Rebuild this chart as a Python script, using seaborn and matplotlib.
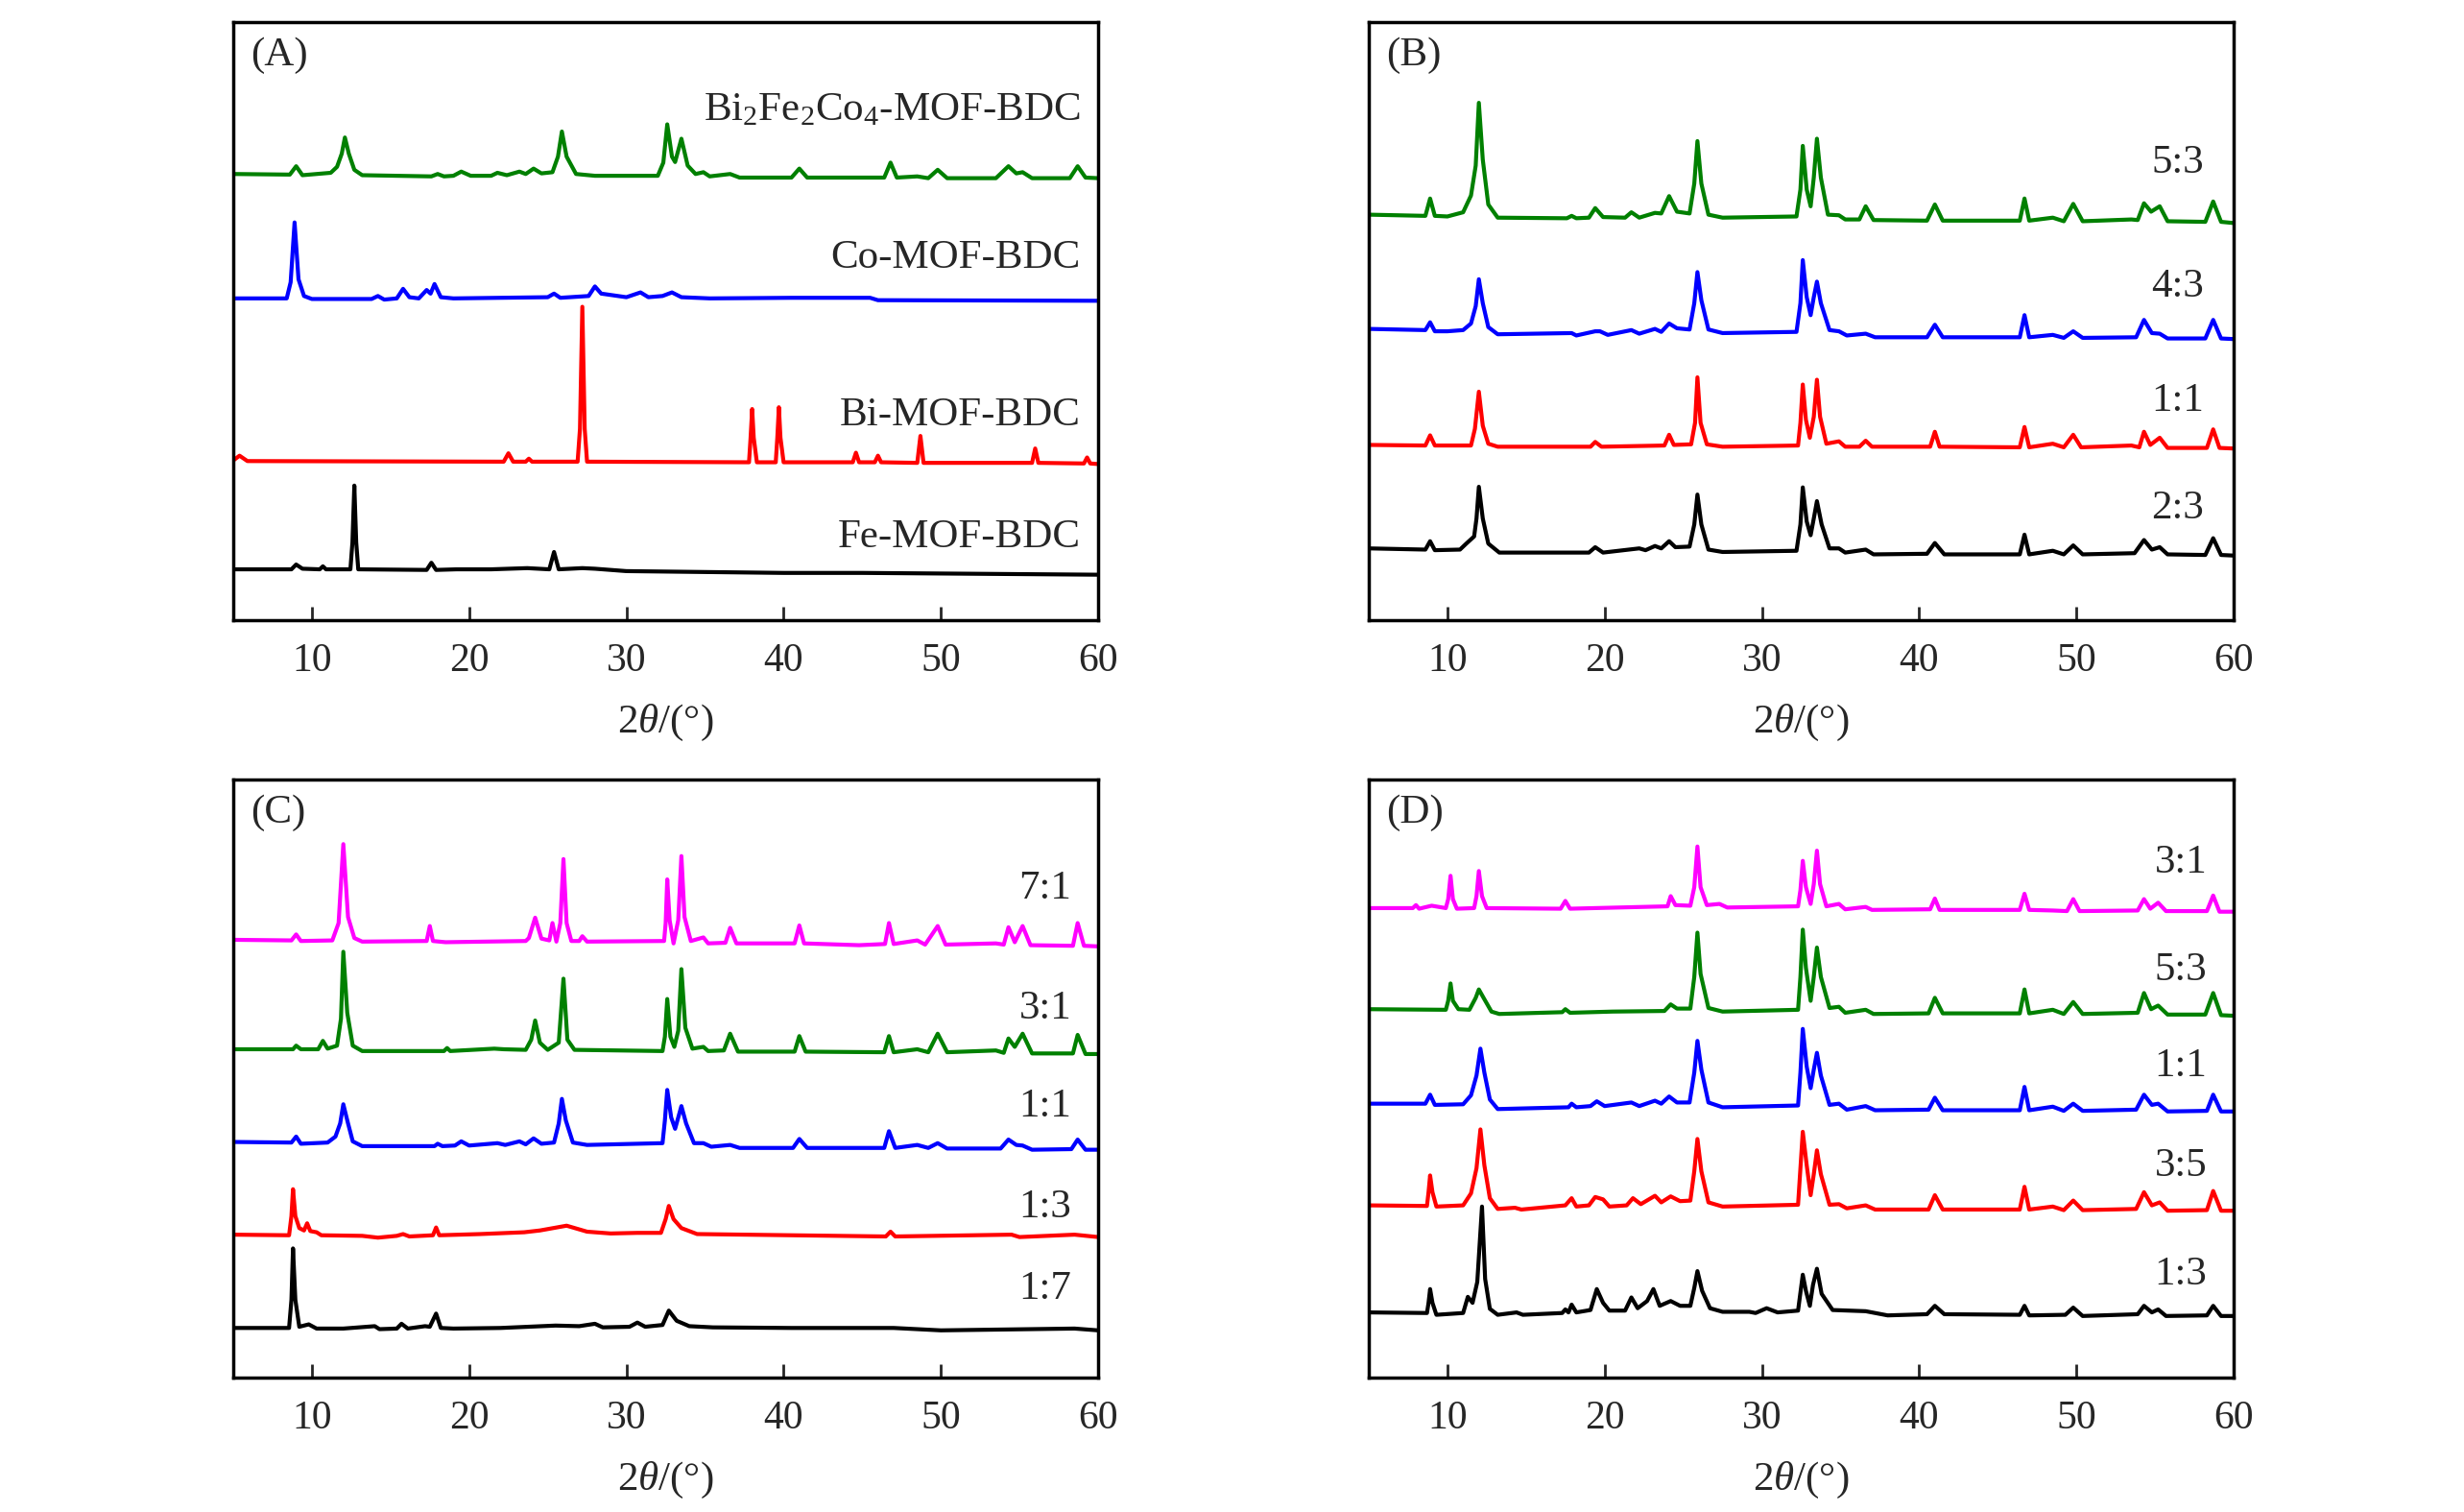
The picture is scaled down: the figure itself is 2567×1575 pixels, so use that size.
import pandas as pd
import seaborn as sns
import matplotlib
matplotlib.use("Agg")
import matplotlib.pyplot as plt

# ---- traces: (2theta, offset intensity in % of axis height)
# panel A
A_bifeco = [(5.0, 74.6), (8.6, 74.5), (9.0, 75.9), (9.4, 74.4), (11.2, 74.8), (11.6, 75.8), (11.9, 78.0),
            (12.1, 80.7), (12.35, 78.0), (12.7, 75.3), (13.2, 74.4), (17.6, 74.2), (18.0, 74.6), (18.4, 74.2),
            (19.0, 74.3), (19.5, 75.0), (20.1, 74.3), (21.4, 74.3), (21.8, 74.8), (22.4, 74.4), (23.2, 75.0),
            (23.6, 74.6), (24.1, 75.5), (24.6, 74.7), (25.3, 74.9), (25.65, 77.5), (25.9, 81.7), (26.2, 77.5),
            (26.8, 74.6), (28.0, 74.3), (32.0, 74.3), (32.35, 76.5), (32.6, 82.9), (32.9, 77.5), (33.1, 76.6),
            (33.5, 80.5), (33.9, 76.0), (34.4, 74.6), (34.9, 74.9), (35.3, 74.2), (36.6, 74.6), (37.2, 74.0),
            (40.5, 74.0), (41.0, 75.5), (41.5, 74.0), (46.4, 74.0), (46.8, 76.5), (47.2, 74.0), (48.5, 74.2),
            (49.2, 73.9), (49.8, 75.3), (50.4, 73.9), (53.5, 73.9), (54.3, 75.9), (54.8, 74.7), (55.2, 74.9),
            (55.8, 73.9), (58.2, 73.9), (58.7, 75.9), (59.2, 74.0), (60.0, 73.9)]
A_co = [(5.0, 53.8), (8.4, 53.8), (8.65, 56.5), (8.9, 66.5), (9.15, 57.0), (9.5, 54.2), (10.0, 53.7),
        (13.8, 53.7), (14.2, 54.2), (14.6, 53.6), (15.4, 53.8), (15.8, 55.4), (16.2, 54.0), (16.8, 53.8),
        (17.3, 55.2), (17.55, 54.6), (17.8, 56.2), (18.2, 54.0), (19.0, 53.8), (25.0, 54.0), (25.4, 54.6),
        (25.8, 53.9), (27.6, 54.2), (28.0, 55.8), (28.4, 54.6), (30.0, 54.0), (30.9, 54.8), (31.4, 54.0),
        (32.3, 54.2), (32.9, 54.8), (33.5, 54.0), (35.3, 53.8), (40.5, 53.9), (45.5, 53.9), (46.0, 53.5),
        (60.0, 53.4)]
A_bi = [(5.0, 26.7), (5.4, 27.5), (5.9, 26.6), (22.2, 26.5), (22.5, 27.9), (22.8, 26.5), (23.6, 26.5),
        (23.8, 27.0), (24.0, 26.5), (26.9, 26.5), (27.05, 32.0), (27.2, 52.4), (27.35, 32.0), (27.5, 26.5),
        (37.8, 26.4), (37.9, 30.5), (38.0, 35.3), (38.1, 30.5), (38.3, 26.4), (39.5, 26.4), (39.6, 30.5),
        (39.7, 35.6), (39.8, 30.5), (40.0, 26.4), (44.4, 26.4), (44.6, 28.0), (44.8, 26.4), (45.8, 26.4),
        (46.0, 27.5), (46.2, 26.4), (48.5, 26.3), (48.7, 30.8), (48.9, 26.3), (55.8, 26.3), (56.0, 28.7),
        (56.2, 26.3), (59.1, 26.2), (59.3, 27.2), (59.5, 26.2), (60.0, 26.1)]
A_fe = [(5.0, 8.5), (8.7, 8.5), (9.0, 9.3), (9.4, 8.6), (10.5, 8.5), (10.7, 9.0), (10.9, 8.5), (12.45, 8.5),
        (12.58, 13.0), (12.7, 22.5), (12.82, 13.0), (12.95, 8.5), (17.3, 8.4), (17.6, 9.6), (17.9, 8.4),
        (19.2, 8.5), (21.4, 8.5), (23.7, 8.7), (25.1, 8.5), (25.4, 11.4), (25.7, 8.5), (27.2, 8.7),
        (28.0, 8.6), (30.0, 8.2), (40.0, 7.9), (45.0, 7.9), (60.0, 7.6)]

# panel B
B_53 = [(5.0, 67.8), (8.6, 67.6), (8.9, 70.5), (9.2, 67.6), (10.0, 67.5), (11.0, 68.2), (11.5, 71.0),
        (11.8, 76.0), (12.0, 86.5), (12.25, 77.0), (12.6, 69.5), (13.2, 67.3), (17.6, 67.2), (17.9, 67.6),
        (18.2, 67.2), (19.0, 67.3), (19.4, 68.9), (19.9, 67.4), (21.3, 67.3), (21.7, 68.2), (22.2, 67.3),
        (23.2, 68.1), (23.6, 68.0), (24.1, 70.9), (24.6, 68.3), (25.4, 68.0), (25.7, 73.0), (25.9, 80.1),
        (26.15, 73.0), (26.6, 67.8), (27.5, 67.3), (32.2, 67.5), (32.45, 72.0), (32.6, 79.3), (32.85, 72.0),
        (33.1, 69.2), (33.3, 74.0), (33.5, 80.5), (33.75, 74.0), (34.2, 67.8), (34.9, 67.7), (35.3, 67.0),
        (36.2, 67.0), (36.6, 69.2), (37.1, 66.9), (40.5, 66.8), (41.0, 69.5), (41.5, 66.8), (46.4, 66.8),
        (46.7, 70.5), (47.0, 66.8), (48.5, 67.3), (49.2, 66.7), (49.8, 69.6), (50.4, 66.7), (53.5, 67.0),
        (53.9, 66.9), (54.3, 69.7), (54.75, 68.3), (55.3, 69.2), (55.8, 66.7), (58.2, 66.6), (58.7, 70.0),
        (59.2, 66.6), (60.0, 66.4)]
B_43 = [(5.0, 48.7), (8.6, 48.5), (8.9, 49.8), (9.2, 48.3), (10.0, 48.3), (11.0, 48.5), (11.5, 49.6),
        (11.8, 52.5), (12.0, 57.0), (12.25, 53.0), (12.6, 49.0), (13.2, 47.8), (17.9, 48.0), (18.2, 47.6),
        (19.4, 48.3), (19.7, 48.3), (20.2, 47.7), (21.7, 48.5), (22.2, 47.9), (23.2, 48.7), (23.6, 48.2),
        (24.1, 49.6), (24.6, 48.8), (25.4, 48.6), (25.7, 53.0), (25.9, 58.2), (26.15, 53.5), (26.6, 48.6),
        (27.5, 48.0), (32.2, 48.2), (32.45, 53.0), (32.6, 60.2), (32.85, 54.0), (33.1, 51.0), (33.3, 54.0),
        (33.5, 56.6), (33.75, 53.0), (34.3, 48.5), (34.9, 48.3), (35.4, 47.6), (36.6, 47.9), (37.2, 47.3),
        (40.5, 47.3), (41.0, 49.4), (41.5, 47.3), (46.4, 47.3), (46.7, 51.0), (47.0, 47.3), (48.5, 47.7),
        (49.2, 47.2), (49.8, 48.3), (50.4, 47.2), (53.8, 47.3), (54.3, 50.2), (54.8, 48.0), (55.3, 47.9),
        (55.8, 47.1), (58.2, 47.1), (58.7, 50.2), (59.2, 47.1), (60.0, 47.0)]
B_11 = [(5.0, 29.3), (8.6, 29.2), (8.9, 30.9), (9.2, 29.2), (11.5, 29.2), (11.75, 32.0), (12.0, 38.2),
        (12.25, 32.5), (12.6, 29.5), (13.2, 29.0), (19.1, 29.0), (19.4, 29.8), (19.8, 29.0), (23.8, 29.2),
        (24.1, 31.0), (24.4, 29.3), (25.5, 29.4), (25.75, 33.0), (25.9, 40.6), (26.1, 33.0), (26.5, 29.4),
        (27.5, 29.0), (32.3, 29.2), (32.45, 33.0), (32.6, 39.4), (32.8, 33.5), (33.05, 30.5), (33.3, 34.0),
        (33.5, 40.2), (33.7, 34.0), (34.1, 29.5), (34.9, 29.9), (35.3, 29.0), (36.2, 29.0), (36.6, 30.0),
        (37.0, 29.0), (40.7, 29.0), (41.0, 31.5), (41.3, 29.0), (46.4, 28.9), (46.7, 32.3), (47.0, 28.9),
        (48.5, 29.5), (49.2, 28.9), (49.8, 31.0), (50.3, 28.9), (53.5, 29.2), (54.0, 28.9), (54.3, 31.5),
        (54.7, 29.3), (55.3, 30.5), (55.8, 28.8), (58.3, 28.8), (58.7, 31.9), (59.1, 28.8), (60.0, 28.7)]
B_23 = [(5.0, 12.0), (8.6, 11.8), (8.9, 13.2), (9.2, 11.7), (10.8, 11.8), (11.2, 12.8), (11.7, 14.0),
        (11.85, 17.0), (12.0, 22.3), (12.25, 17.0), (12.6, 12.8), (13.3, 11.3), (19.0, 11.3), (19.4, 12.2),
        (19.9, 11.3), (22.2, 12.0), (22.6, 11.7), (23.2, 12.4), (23.6, 12.0), (24.1, 13.2), (24.5, 12.2),
        (25.4, 12.3), (25.7, 16.0), (25.9, 21.0), (26.15, 16.0), (26.6, 11.8), (27.5, 11.4), (32.2, 11.6),
        (32.45, 16.0), (32.6, 22.2), (32.85, 16.5), (33.1, 14.2), (33.3, 17.0), (33.5, 19.9), (33.8, 16.0),
        (34.3, 12.0), (34.9, 12.0), (35.3, 11.3), (36.6, 11.8), (37.1, 11.0), (40.5, 11.1), (41.0, 12.9),
        (41.6, 11.0), (46.4, 11.0), (46.7, 14.3), (47.0, 11.0), (48.5, 11.6), (49.2, 11.0), (49.8, 12.5),
        (50.4, 11.0), (53.7, 11.2), (54.3, 13.4), (54.8, 11.8), (55.3, 12.2), (55.8, 11.0), (58.2, 10.9),
        (58.7, 13.7), (59.2, 10.9), (60.0, 10.8)]

# panel C
C_71 = [(5.0, 73.2), (8.7, 73.1), (9.0, 74.1), (9.3, 73.0), (11.3, 73.1), (11.7, 76.0), (12.0, 89.2),
        (12.3, 77.0), (12.7, 73.5), (13.2, 72.9), (17.3, 73.0), (17.5, 75.5), (17.7, 73.0), (18.5, 72.8),
        (23.6, 73.0), (23.8, 73.5), (24.2, 76.9), (24.6, 73.4), (25.1, 73.1), (25.3, 76.0), (25.55, 72.9),
        (25.8, 76.0), (26.0, 86.7), (26.2, 76.0), (26.5, 73.0), (27.0, 73.0), (27.2, 73.8), (27.5, 72.9),
        (32.4, 73.0), (32.5, 76.0), (32.6, 83.3), (32.75, 76.5), (33.0, 72.6), (33.3, 76.5), (33.5, 87.2),
        (33.7, 77.0), (34.1, 73.0), (34.9, 73.6), (35.2, 72.6), (36.3, 72.7), (36.6, 75.2), (37.0, 72.6),
        (40.7, 72.6), (41.0, 75.6), (41.3, 72.6), (44.8, 72.3), (46.45, 72.5), (46.7, 76.0), (47.0, 72.5),
        (48.5, 73.1), (49.0, 72.4), (49.8, 75.5), (50.3, 72.4), (53.5, 72.6), (54.0, 72.4), (54.3, 75.3),
        (54.7, 72.8), (55.2, 75.5), (55.7, 72.3), (58.4, 72.2), (58.7, 76.0), (59.1, 72.2), (60.0, 72.1)]
C_31 = [(5.0, 54.9), (8.8, 54.9), (9.0, 55.5), (9.3, 54.9), (10.4, 54.9), (10.7, 56.3), (11.0, 55.0),
        (11.6, 55.5), (11.85, 60.0), (12.0, 71.2), (12.25, 61.0), (12.6, 55.5), (13.2, 54.6), (18.4, 54.6),
        (18.6, 55.1), (18.8, 54.6), (21.6, 55.0), (22.2, 54.9), (23.6, 54.8), (23.95, 56.5), (24.2, 59.7),
        (24.5, 56.0), (25.0, 54.8), (25.7, 56.0), (26.0, 66.7), (26.25, 56.5), (26.7, 54.8), (32.3, 54.6),
        (32.45, 57.0), (32.6, 63.3), (32.8, 57.0), (33.05, 55.3), (33.3, 58.0), (33.5, 68.3), (33.75, 58.5),
        (34.2, 55.0), (34.9, 55.3), (35.2, 54.6), (36.2, 54.7), (36.6, 57.5), (37.1, 54.5), (40.7, 54.5),
        (41.0, 57.1), (41.4, 54.5), (46.4, 54.4), (46.7, 57.1), (47.0, 54.4), (48.5, 54.9), (49.2, 54.4),
        (49.8, 57.5), (50.4, 54.4), (53.5, 54.7), (54.0, 54.3), (54.3, 56.7), (54.7, 55.3), (55.2, 57.5),
        (55.8, 54.2), (58.4, 54.2), (58.7, 57.3), (59.2, 54.1), (60.0, 54.1)]
C_11 = [(5.0, 39.4), (8.7, 39.3), (9.0, 40.3), (9.3, 39.1), (11.0, 39.3), (11.5, 40.3), (11.8, 42.5),
        (12.0, 45.7), (12.3, 42.5), (12.6, 39.5), (13.2, 38.7), (17.8, 38.7), (18.0, 39.1), (18.3, 38.7),
        (19.1, 38.8), (19.5, 39.5), (20.0, 38.8), (21.8, 39.2), (22.3, 38.9), (23.2, 39.5), (23.6, 39.0),
        (24.1, 40.0), (24.6, 39.1), (25.4, 39.3), (25.7, 42.5), (25.9, 46.6), (26.15, 43.0), (26.6, 39.3),
        (27.5, 38.9), (32.3, 39.2), (32.45, 43.0), (32.6, 48.1), (32.85, 43.5), (33.1, 41.6), (33.3, 43.5),
        (33.5, 45.4), (33.8, 42.5), (34.3, 39.2), (34.9, 39.2), (35.4, 38.6), (36.6, 38.9), (37.2, 38.4),
        (40.6, 38.4), (41.0, 39.9), (41.5, 38.4), (46.4, 38.4), (46.7, 41.2), (47.1, 38.4), (48.5, 38.9),
        (49.2, 38.4), (49.8, 39.2), (50.4, 38.3), (53.8, 38.3), (54.3, 39.8), (54.8, 38.9), (55.2, 38.8),
        (55.8, 38.1), (58.3, 38.2), (58.7, 39.8), (59.2, 38.1), (60.0, 38.1)]
C_13 = [(5.0, 23.9), (8.55, 23.8), (8.7, 27.0), (8.8, 31.5), (8.95, 27.0), (9.2, 25.0), (9.5, 24.6),
        (9.7, 25.8), (9.9, 24.5), (10.3, 24.3), (10.6, 23.8), (13.2, 23.7), (14.2, 23.4), (15.4, 23.7),
        (15.8, 24.0), (16.2, 23.6), (17.7, 23.8), (17.9, 25.1), (18.1, 23.8), (20.7, 24.0), (23.5, 24.3),
        (24.5, 24.6), (26.2, 25.4), (27.5, 24.4), (29.0, 24.1), (30.7, 24.2), (32.2, 24.2), (32.5, 26.5),
        (32.7, 28.7), (33.0, 26.5), (33.5, 25.0), (34.5, 24.0), (40.5, 23.8), (46.5, 23.6), (46.8, 24.4),
        (47.1, 23.6), (54.5, 23.9), (55.0, 23.5), (58.5, 23.9), (60.0, 23.5)]
C_17 = [(5.0, 8.3), (8.55, 8.3), (8.7, 13.0), (8.8, 21.6), (8.95, 13.0), (9.2, 8.5), (9.8, 8.9), (10.3, 8.2),
        (12.0, 8.2), (14.0, 8.6), (14.3, 8.1), (15.4, 8.2), (15.7, 9.0), (16.1, 8.2), (17.2, 8.6),
        (17.5, 8.5), (17.9, 10.7), (18.2, 8.3), (19.0, 8.2), (22.0, 8.3), (25.5, 8.7), (27.0, 8.6),
        (28.0, 9.0), (28.5, 8.4), (30.2, 8.5), (30.7, 9.2), (31.2, 8.5), (32.3, 8.8), (32.7, 11.2),
        (33.2, 9.5), (34.0, 8.6), (35.5, 8.4), (40.5, 8.3), (47.0, 8.3), (50.0, 7.9), (58.5, 8.2), (60.0, 7.9)]

# panel D
D_31 = [(5.0, 78.5), (7.8, 78.5), (8.0, 79.0), (8.2, 78.4), (9.0, 78.9), (9.9, 78.5), (10.05, 80.0),
        (10.2, 83.9), (10.35, 80.0), (10.6, 78.4), (11.7, 78.5), (11.85, 80.5), (12.0, 84.7), (12.2, 80.5),
        (12.5, 78.5), (17.2, 78.4), (17.5, 79.7), (17.8, 78.4), (24.0, 78.8), (24.2, 80.5), (24.5, 79.0),
        (25.45, 78.9), (25.7, 82.0), (25.9, 88.8), (26.1, 82.0), (26.5, 79.0), (27.3, 79.2), (27.8, 78.6),
        (32.3, 78.8), (32.45, 81.5), (32.6, 86.4), (32.8, 82.0), (33.1, 79.2), (33.3, 82.5), (33.5, 88.1),
        (33.7, 82.5), (34.1, 78.8), (34.9, 79.2), (35.3, 78.3), (36.6, 78.7), (37.0, 78.2), (40.7, 78.3),
        (41.0, 80.1), (41.3, 78.2), (46.4, 78.2), (46.7, 80.9), (47.0, 78.2), (48.5, 78.1), (49.4, 78.0),
        (49.8, 80.0), (50.2, 78.0), (53.9, 78.1), (54.3, 80.0), (54.7, 78.4), (55.2, 79.4), (55.7, 78.0),
        (58.3, 78.0), (58.7, 80.6), (59.1, 77.9), (60.0, 77.9)]
D_53 = [(5.0, 61.6), (9.9, 61.5), (10.05, 63.0), (10.2, 65.9), (10.35, 63.0), (10.7, 61.6), (11.4, 61.5),
        (11.8, 63.5), (12.0, 64.9), (12.3, 63.5), (12.8, 61.2), (13.3, 60.8), (17.3, 61.1), (17.5, 61.6),
        (17.8, 61.0), (20.5, 61.2), (23.8, 61.3), (24.2, 62.4), (24.6, 61.7), (25.45, 61.7), (25.7, 67.0),
        (25.9, 74.4), (26.1, 67.5), (26.6, 61.8), (27.5, 61.2), (32.3, 61.5), (32.45, 67.0), (32.6, 74.9),
        (32.8, 68.5), (33.1, 63.0), (33.3, 67.0), (33.5, 71.9), (33.75, 67.0), (34.3, 61.8), (34.9, 62.0),
        (35.3, 61.0), (36.6, 61.5), (37.1, 60.8), (40.6, 60.9), (41.0, 63.5), (41.5, 60.9), (46.4, 60.9),
        (46.7, 64.9), (47.0, 60.9), (48.5, 61.5), (49.2, 60.8), (49.8, 62.8), (50.4, 60.8), (53.9, 61.0),
        (54.3, 64.3), (54.75, 61.6), (55.2, 62.2), (55.8, 60.7), (58.2, 60.7), (58.7, 64.3), (59.2, 60.6),
        (60.0, 60.5)]
D_11 = [(5.0, 45.8), (8.6, 45.8), (8.9, 47.3), (9.2, 45.6), (11.0, 45.7), (11.5, 47.2), (11.85, 50.5),
        (12.1, 55.0), (12.35, 51.0), (12.7, 46.5), (13.2, 44.9), (17.7, 45.2), (17.9, 45.8), (18.2, 45.2),
        (19.1, 45.4), (19.5, 46.2), (20.0, 45.4), (21.7, 46.0), (22.2, 45.4), (23.2, 46.3), (23.6, 45.8),
        (24.1, 47.0), (24.6, 46.0), (25.4, 46.0), (25.7, 51.0), (25.9, 56.3), (26.15, 51.5), (26.6, 46.0),
        (27.5, 45.2), (32.3, 45.5), (32.45, 51.0), (32.6, 58.3), (32.85, 52.0), (33.1, 48.4), (33.3, 51.5),
        (33.5, 54.3), (33.75, 50.5), (34.3, 45.6), (34.9, 45.8), (35.4, 44.8), (36.6, 45.4), (37.2, 44.7),
        (40.6, 44.8), (41.0, 46.8), (41.5, 44.7), (46.4, 44.7), (46.7, 48.6), (47.0, 44.7), (48.5, 45.3),
        (49.2, 44.6), (49.8, 45.8), (50.4, 44.6), (53.8, 44.8), (54.3, 47.3), (54.8, 45.6), (55.2, 45.8),
        (55.8, 44.5), (58.3, 44.6), (58.7, 47.3), (59.2, 44.5), (60.0, 44.5)]
D_35 = [(5.0, 28.8), (8.7, 28.7), (8.8, 31.0), (8.9, 33.8), (9.05, 31.0), (9.3, 28.6), (11.0, 28.8),
        (11.5, 30.8), (11.85, 35.0), (12.1, 41.5), (12.35, 35.5), (12.7, 30.0), (13.2, 28.2), (14.3, 28.4),
        (14.7, 28.1), (17.5, 28.8), (17.9, 30.0), (18.2, 28.6), (19.0, 28.8), (19.4, 30.2), (19.9, 29.8),
        (20.3, 28.6), (21.4, 28.8), (21.8, 30.0), (22.3, 29.0), (23.2, 30.4), (23.6, 29.3), (24.2, 30.3),
        (24.8, 29.5), (25.45, 29.6), (25.7, 34.5), (25.9, 39.9), (26.15, 34.5), (26.6, 29.3), (27.5, 28.6),
        (32.3, 28.9), (32.45, 35.0), (32.6, 41.1), (32.85, 35.5), (33.1, 30.5), (33.3, 34.0), (33.5, 38.0),
        (33.75, 34.0), (34.3, 28.9), (34.9, 29.0), (35.4, 28.3), (36.6, 28.8), (37.2, 28.1), (40.6, 28.1),
        (41.0, 30.5), (41.5, 28.1), (46.4, 28.1), (46.7, 31.9), (47.0, 28.1), (48.5, 28.6), (49.2, 28.0),
        (49.8, 29.6), (50.4, 28.0), (53.8, 28.2), (54.3, 31.0), (54.8, 28.8), (55.3, 29.3), (55.8, 27.9),
        (58.3, 28.0), (58.7, 31.2), (59.2, 27.9), (60.0, 27.9)]
D_13 = [(5.0, 10.9), (8.7, 10.8), (8.8, 12.5), (8.9, 14.8), (9.05, 12.5), (9.3, 10.5), (11.0, 10.8),
        (11.3, 13.5), (11.6, 12.5), (11.9, 16.0), (12.2, 28.6), (12.4, 16.5), (12.7, 11.5), (13.2, 10.5),
        (14.4, 10.9), (14.8, 10.5), (17.3, 10.8), (17.5, 11.4), (17.7, 10.9), (17.9, 12.2), (18.2, 10.9),
        (19.1, 11.3), (19.5, 14.8), (19.9, 12.5), (20.3, 11.2), (21.3, 11.2), (21.7, 13.4), (22.1, 11.6),
        (22.7, 12.8), (23.1, 14.8), (23.5, 12.0), (24.2, 12.8), (24.8, 12.0), (25.45, 12.0), (25.7, 15.0),
        (25.9, 17.8), (26.2, 14.5), (26.7, 11.6), (27.5, 11.0), (29.2, 11.0), (29.6, 10.8), (30.3, 11.6),
        (31.0, 10.9), (32.3, 11.2), (32.6, 17.2), (32.8, 14.5), (33.05, 12.0), (33.25, 15.5), (33.5, 18.2),
        (33.8, 14.0), (34.5, 11.3), (36.6, 11.1), (38.0, 10.4), (40.5, 10.6), (41.0, 12.0), (41.6, 10.6),
        (46.4, 10.5), (46.7, 12.0), (47.0, 10.4), (49.3, 10.5), (49.8, 11.7), (50.4, 10.3), (53.9, 10.6),
        (54.3, 12.0), (54.8, 10.9), (55.2, 11.4), (55.7, 10.3), (58.3, 10.4), (58.7, 12.0), (59.2, 10.3),
        (60.0, 10.3)]

# labels and their vertical positions (same units)
A_labels = ["Bi$_2$Fe$_2$Co$_4$-MOF-BDC", "Co-MOF-BDC", "Bi-MOF-BDC", "Fe-MOF-BDC"]
A_label_y = [85.3, 60.6, 34.3, 13.9]
B_labels = ["5:3", "4:3", "1:1", "2:3"]
B_label_y = [76.5, 55.8, 36.7, 18.7]
C_labels = ["7:1", "3:1", "1:1", "1:3", "1:7"]
C_label_y = [81.7, 61.7, 45.3, 28.4, 14.8]
D_labels = ["3:1", "5:3", "1:1", "3:5", "1:3"]
D_label_y = [86.1, 68.1, 52.1, 35.3, 17.2]

GREEN, BLUE, RED, MAGENTA, BLACK = "#008000", "#0000ff", "#ff0000", "#ff00ff", "#000000"

panels = [
    ("(A)", [A_bifeco, A_co, A_bi, A_fe], [GREEN, BLUE, RED, BLACK], A_labels, A_label_y, 58.9),
    ("(B)", [B_53, B_43, B_11, B_23], [GREEN, BLUE, RED, BLACK], B_labels, B_label_y, 58.1),
    ("(C)", [C_71, C_31, C_11, C_13, C_17], [MAGENTA, GREEN, BLUE, RED, BLACK], C_labels, C_label_y, 58.3),
    ("(D)", [D_31, D_53, D_11, D_35, D_13], [MAGENTA, GREEN, BLUE, RED, BLACK], D_labels, D_label_y, 58.3),
]

sns.set_theme(style="white")
plt.rcParams["font.family"] = ["Liberation Serif", "DejaVu Serif"]
plt.rcParams["mathtext.fontset"] = "custom"
plt.rcParams["mathtext.rm"] = "Liberation Serif"
plt.rcParams["mathtext.it"] = "Liberation Serif:italic"

fig = plt.figure(figsize=(25.67, 15.75), dpi=100)
W, H = 2567, 1575
boxes = [(243, 23), (1426, 23), (243, 812), (1426, 812)]   # left/top in px
aw, ah = 901, 623

for (tag, traces, cols, labels, label_y, lx), (px, py) in zip(panels, boxes):
    ax = fig.add_axes([px / W, 1 - (py + ah) / H, aw / W, ah / H])
    for tr, c in zip(traces, cols):
        df = pd.DataFrame(tr, columns=["theta", "I"])
        sns.lineplot(data=df, x="theta", y="I", sort=False, estimator=None,
                     color=c, linewidth=3.0, ax=ax)
    for lab, y in zip(labels, label_y):
        ax.text(lx, y, lab, ha="right", va="center", fontsize=31)
    ax.text(0.02, 0.944, tag, transform=ax.transAxes, ha="left", va="center", fontsize=31)
    ax.set_xlim(5, 60)
    ax.set_ylim(0, 100)
    ax.set_xticks([10, 20, 30, 40, 50, 60])
    ax.set_yticks([])
    ax.set_ylabel("")
    ax.set_xlabel("2$\\it{\\theta}$/(°)", fontsize=31, labelpad=17)
    ax.tick_params(axis="x", direction="in", length=10, width=2, labelsize=30, pad=17,
                   bottom=True, top=False)
    for s in ax.spines.values():
        s.set_visible(True)
        s.set_linewidth(2.5)
        s.set_color("black")

fig.savefig("out.png", dpi=100)
